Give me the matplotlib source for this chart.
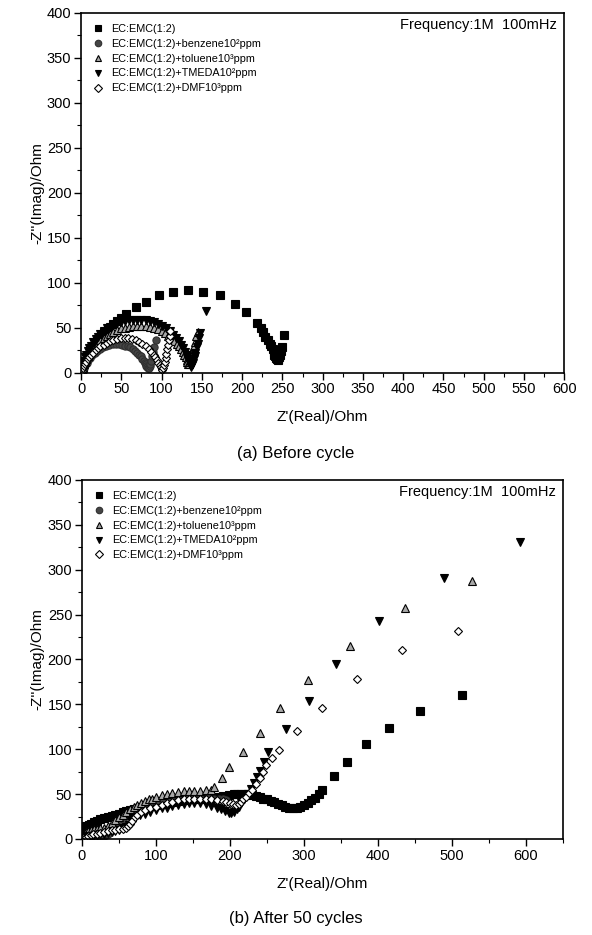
import matplotlib
matplotlib.use('Agg')
import matplotlib.pyplot as plt
from matplotlib.ticker import MultipleLocator

plt.rcParams['font.family'] = ['Liberation Sans', 'DejaVu Sans']

labels = ['EC:EMC(1:2)',
          'EC:EMC(1:2)+benzene10²ppm',
          'EC:EMC(1:2)+toluene10³ppm',
          'EC:EMC(1:2)+TMEDA10²ppm',
          'EC:EMC(1:2)+DMF10³ppm']

# (a) antes del ciclado
a_base_x = [2, 5, 8, 12, 15, 19, 24, 29, 34, 39, 45, 50, 56, 68, 81, 97, 114, 133, 152, 172, 191, 205, 218, 223, 226, 229, 232, 234, 236, 238, 239, 240, 241, 242, 243, 244, 245, 246, 247, 248, 249, 252]
a_base_y = [5, 12, 18, 24, 28, 34, 40, 45, 50, 54, 57, 61, 65, 73, 79, 86, 90, 92, 90, 86, 76, 67, 55, 50, 45, 40, 36, 32, 29, 26, 23, 20, 18, 16, 15, 14, 15, 17, 20, 24, 28, 42]
a_benz_x = [2, 4, 5, 7, 9, 11, 14, 17, 20, 24, 27, 31, 35, 39, 43, 47, 51, 55, 58, 61, 64, 67, 70, 72, 74, 76, 78, 79, 80, 81, 82, 83, 84, 85, 86, 87, 88, 89, 90, 93]
a_benz_y = [2, 5, 8, 11, 14, 16, 19, 22, 24, 26, 28, 30, 31, 32, 32, 32, 31, 30, 29, 28, 26, 24, 22, 20, 18, 15, 13, 11, 9, 7, 6, 5, 5, 7, 9, 13, 18, 23, 28, 36]
a_tol_x = [1, 2, 3, 5, 6, 8, 10, 12, 15, 18, 21, 24, 28, 32, 36, 40, 45, 50, 55, 60, 65, 70, 75, 80, 85, 90, 95, 100, 104, 108, 112, 116, 119, 122, 124, 126, 128, 130, 131, 132, 133, 134, 135, 136, 137, 138, 139, 140, 141, 143, 145]
a_tol_y = [3, 6, 9, 12, 15, 18, 21, 24, 27, 30, 33, 36, 38, 41, 43, 45, 47, 49, 50, 51, 52, 52, 52, 52, 51, 50, 48, 46, 44, 41, 38, 35, 32, 29, 26, 23, 20, 17, 14, 12, 10, 10, 12, 15, 18, 22, 26, 30, 34, 41, 45]
a_tmeda_x = [1, 2, 3, 5, 6, 8, 10, 12, 15, 18, 21, 24, 28, 32, 36, 40, 45, 50, 55, 60, 65, 70, 75, 80, 85, 90, 95, 100, 105, 110, 114, 118, 121, 124, 127, 129, 131, 132, 134, 135, 136, 137, 138, 139, 140, 141, 142, 144, 145, 147, 148, 155]
a_tmeda_y = [6, 10, 13, 17, 20, 24, 27, 30, 34, 37, 40, 43, 46, 49, 51, 53, 55, 56, 57, 58, 58, 58, 58, 58, 57, 56, 54, 52, 49, 46, 42, 38, 35, 31, 27, 23, 19, 16, 12, 9, 7, 6, 8, 11, 15, 18, 22, 28, 32, 38, 44, 68]
a_dmf_x = [1, 2, 3, 5, 6, 8, 10, 12, 15, 18, 21, 24, 28, 32, 36, 40, 45, 50, 54, 58, 63, 68, 72, 76, 80, 84, 87, 90, 92, 94, 96, 98, 99, 100, 101, 102, 103, 104, 105, 106, 107, 108, 109, 110, 111]
a_dmf_y = [2, 5, 7, 10, 12, 15, 17, 20, 22, 25, 27, 29, 31, 33, 35, 36, 37, 38, 38, 38, 37, 36, 34, 32, 29, 26, 23, 20, 17, 14, 11, 8, 6, 4, 3, 5, 8, 12, 16, 21, 26, 31, 36, 41, 46]

# (b) despues de 50 ciclos
b_base_x = [2, 4, 6, 9, 12, 16, 20, 25, 30, 35, 40, 45, 50, 55, 60, 65, 70, 78, 85, 92, 100, 108, 115, 122, 130, 138, 145, 152, 160, 168, 175, 182, 190, 198, 205, 210, 215, 220, 225, 230, 235, 240, 245, 250, 255, 260, 265, 270, 275, 280, 285, 290, 295, 300, 305, 310, 315, 320, 325, 340, 358, 384, 415, 457, 514]
b_base_y = [10, 12, 14, 16, 17, 19, 20, 22, 23, 25, 26, 27, 28, 30, 31, 32, 33, 35, 36, 37, 38, 39, 40, 41, 42, 43, 44, 44, 45, 46, 46, 47, 48, 49, 50, 50, 50, 50, 50, 49, 48, 47, 45, 44, 42, 41, 39, 38, 36, 35, 35, 35, 36, 38, 40, 43, 46, 50, 55, 70, 86, 106, 124, 143, 160]
b_benz_x = [2, 6, 10, 15, 20, 24, 28, 32, 35, 40, 45, 50, 55, 60, 65, 70, 75, 82, 90, 100, 110, 120, 130, 140, 150, 160, 170, 178, 185, 190, 195]
b_benz_y = [0, 1, 1, 1, 1, 2, 2, 4, 6, 10, 14, 18, 22, 26, 30, 33, 36, 38, 40, 42, 43, 44, 45, 46, 46, 46, 46, 45, 45, 44, 43]
b_tol_x = [1, 3, 5, 8, 12, 16, 20, 25, 30, 35, 40, 45, 50, 55, 60, 65, 70, 75, 80, 85, 90, 95, 100, 108, 115, 122, 130, 138, 145, 152, 160, 168, 175, 178, 189, 199, 217, 240, 268, 306, 362, 437, 527]
b_tol_y = [3, 6, 8, 9, 10, 11, 11, 12, 12, 15, 18, 21, 24, 27, 30, 33, 36, 38, 40, 42, 44, 45, 47, 49, 50, 51, 52, 53, 53, 54, 54, 55, 55, 58, 68, 80, 97, 118, 146, 177, 215, 257, 287]
b_tmeda_x = [1, 5, 10, 15, 20, 25, 30, 35, 40, 45, 50, 55, 60, 63, 66, 69, 72, 78, 85, 92, 100, 108, 115, 122, 130, 138, 145, 152, 160, 168, 175, 182, 188, 193, 198, 202, 205, 209, 212, 215, 218, 222, 225, 228, 232, 236, 240, 246, 252, 276, 307, 343, 402, 489, 592]
b_tmeda_y = [1, 2, 3, 3, 4, 5, 6, 7, 8, 9, 10, 12, 13, 16, 20, 23, 25, 27, 28, 30, 32, 34, 35, 37, 38, 39, 40, 40, 40, 39, 37, 35, 33, 31, 29, 29, 30, 33, 36, 40, 44, 47, 50, 56, 62, 69, 76, 86, 97, 123, 154, 195, 243, 291, 331]
b_dmf_x = [2, 5, 8, 12, 15, 20, 25, 30, 35, 40, 45, 50, 55, 60, 62, 65, 68, 72, 75, 80, 85, 92, 100, 108, 115, 122, 130, 138, 145, 152, 160, 168, 175, 182, 190, 195, 200, 204, 208, 212, 215, 218, 222, 226, 230, 235, 240, 244, 248, 257, 266, 290, 325, 371, 433, 508]
b_dmf_y = [1, 2, 3, 4, 5, 6, 7, 8, 9, 10, 10, 11, 11, 12, 14, 17, 20, 24, 27, 30, 32, 34, 36, 38, 40, 41, 43, 44, 45, 45, 45, 45, 44, 43, 42, 41, 40, 39, 38, 39, 41, 44, 47, 51, 55, 61, 68, 75, 82, 90, 99, 120, 146, 178, 211, 232]

styles = [dict(marker='s', color='black', mec='black'),
          dict(marker='o', color='#454545', mec='#303030'),
          dict(marker='^', color='#a8a8a8', mec='black'),
          dict(marker='v', color='black', mec='black'),
          dict(marker='D', color='white', mec='black', ms=4.2)]

fig = plt.figure(figsize=(5.92, 9.35), dpi=100)
ax1 = fig.add_axes([0.137, 0.6016, 0.816, 0.3845])
ax2 = fig.add_axes([0.1385, 0.1027, 0.8125, 0.384])

series_a = [(a_base_x, a_base_y), (a_benz_x, a_benz_y), (a_tol_x, a_tol_y),
            (a_tmeda_x, a_tmeda_y), (a_dmf_x, a_dmf_y)]
series_b = [(b_base_x, b_base_y), (b_benz_x, b_benz_y), (b_tol_x, b_tol_y),
            (b_tmeda_x, b_tmeda_y), (b_dmf_x, b_dmf_y)]

for ax, series, xmax, xmaj in [(ax1, series_a, 600, 50), (ax2, series_b, 650, 100)]:
    for (x, y), lab, st in zip(series, labels, styles):
        st = dict(st)
        ms = st.pop('ms', 5.2)
        ax.plot(x, y, linestyle='none', ms=ms, mew=0.8, label=lab, **st)
    ax.set_xlim(0, xmax)
    ax.set_ylim(0, 400)
    ax.xaxis.set_major_locator(MultipleLocator(xmaj))
    ax.xaxis.set_minor_locator(MultipleLocator(xmaj / 2))
    ax.yaxis.set_major_locator(MultipleLocator(50))
    ax.yaxis.set_minor_locator(MultipleLocator(25))
    ax.tick_params(which='major', direction='out', length=5, width=1, labelsize=10.5, pad=2)
    ax.tick_params(which='minor', direction='out', length=3, width=0.8)
    for s in ax.spines.values():
        s.set_linewidth(1.2)
    ax.set_xlabel("Z'(Real)/Ohm", fontsize=11, labelpad=10)
    ax.set_ylabel("-Z''(Imag)/Ohm", fontsize=11, labelpad=2)
    ax.text(0.985, 0.985, 'Frequency:1M  100mHz', transform=ax.transAxes,
            ha='right', va='top', fontsize=10.5)
    ax.legend(loc='upper left', bbox_to_anchor=(0.0, 1.0), frameon=False,
              fontsize=7.8, handletextpad=0.6, labelspacing=0.45,
              borderaxespad=0.6, handlelength=1.2, markerscale=0.9)

fig.text(0.5, 0.5155, '(a) Before cycle', ha='center', va='center', fontsize=12)
fig.text(0.5, 0.018, '(b) After 50 cycles', ha='center', va='center', fontsize=12)

fig.savefig('out.png', dpi=100)
